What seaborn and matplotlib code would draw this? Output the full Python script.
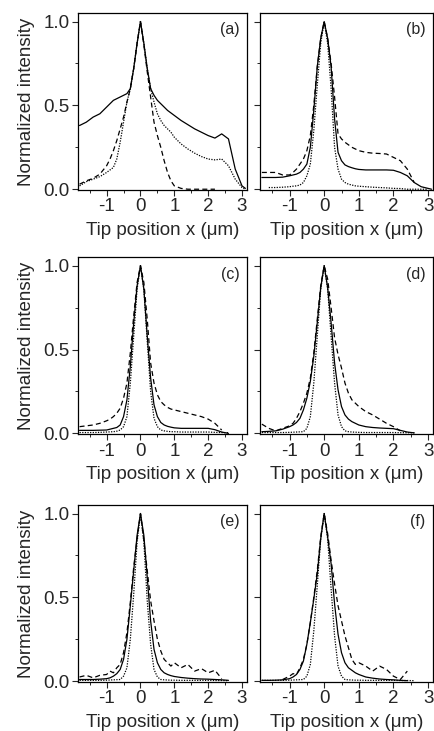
import numpy as np
import pandas as pd
import seaborn as sns
from matplotlib import pyplot as plt
from matplotlib.ticker import MultipleLocator

nan = np.nan

# common x grid (tip position, um)
x_pos = [-1.8, -1.6, -1.4, -1.2, -1.0, -0.9, -0.8, -0.7, -0.6, -0.5, -0.4, -0.3,
         -0.2, -0.1, 0.0, 0.1, 0.2, 0.3, 0.4, 0.5, 0.6, 0.7, 0.8, 0.9, 1.0,
         1.2, 1.4, 1.6, 1.8, 2.0, 2.2, 2.4, 2.6, 2.8, 3.0, 3.1]

# panel (a)
a_solid = [0.38, 0.40, 0.43, 0.45, 0.49, 0.51, 0.53, 0.54, 0.55, 0.56, 0.57, 0.60,
           0.72, 0.87, 1.00, 0.87, 0.72, 0.60, 0.56, 0.53, 0.51, 0.49, 0.47, 0.455, 0.44,
           0.41, 0.385, 0.36, 0.34, 0.32, 0.305, 0.33, 0.30, 0.12, 0.02, 0.005]
a_dash = [0.03, 0.05, 0.065, 0.09, 0.14, 0.18, 0.23, 0.29, 0.36, 0.43, 0.52, 0.60,
          0.72, 0.87, 1.00, 0.86, 0.70, 0.55, 0.40, 0.32, 0.25, 0.17, 0.10, 0.05, 0.02,
          0.005, 0.0, 0.0, 0.0, 0.0, 0.0, nan, nan, nan, nan, nan]
a_dot = [0.02, 0.045, 0.06, 0.075, 0.10, 0.115, 0.13, 0.18, 0.28, 0.40, 0.52, 0.60,
         0.72, 0.87, 1.00, 0.87, 0.72, 0.60, 0.52, 0.45, 0.41, 0.38, 0.36, 0.34, 0.31,
         0.27, 0.24, 0.215, 0.195, 0.18, 0.175, 0.18, 0.14, 0.06, 0.01, 0.0]

# panel (b)
b_solid = [0.07, 0.07, 0.07, 0.072, 0.08, 0.085, 0.09, 0.10, 0.12, 0.15, 0.25, 0.47,
           0.73, 0.90, 1.00, 0.90, 0.73, 0.42, 0.22, 0.17, 0.145, 0.135, 0.128, 0.122, 0.118,
           0.115, 0.115, 0.115, 0.115, 0.113, 0.10, 0.08, 0.04, 0.015, 0.005, 0.0]
b_dash = [0.10, 0.10, 0.10, 0.085, 0.085, 0.10, 0.12, 0.15, 0.18, 0.23, 0.32, 0.50,
          0.73, 0.90, 1.00, 0.90, 0.75, 0.55, 0.33, 0.30, 0.28, 0.265, 0.25, 0.24, 0.23,
          0.22, 0.215, 0.213, 0.21, 0.19, 0.17, 0.12, 0.04, nan, nan, nan]
b_dot = [nan, 0.01, 0.01, 0.012, 0.015, 0.018, 0.02, 0.025, 0.04, 0.08, 0.15, 0.35,
         0.62, 0.87, 1.00, 0.87, 0.60, 0.25, 0.12, 0.06, 0.04, 0.03, 0.025, 0.02, 0.018,
         0.015, 0.012, 0.01, 0.008, 0.005, 0.004, 0.0, 0.0, 0.0, 0.0, nan]

# panel (c)
c_solid = [0.018, 0.018, 0.018, 0.019, 0.02, 0.025, 0.03, 0.035, 0.05, 0.10, 0.20, 0.40,
           0.66, 0.88, 1.00, 0.86, 0.58, 0.33, 0.17, 0.10, 0.065, 0.05, 0.042, 0.037, 0.033,
           0.03, 0.03, 0.03, 0.03, 0.03, 0.022, 0.008, 0.0, nan, nan, nan]
c_dash = [0.04, 0.045, 0.05, 0.06, 0.075, 0.085, 0.10, 0.12, 0.15, 0.21, 0.30, 0.48,
          0.70, 0.90, 1.00, 0.90, 0.68, 0.42, 0.30, 0.23, 0.19, 0.17, 0.155, 0.145, 0.14,
          0.13, 0.12, 0.11, 0.10, 0.085, 0.06, 0.02, nan, nan, nan, nan]
c_dot = [0.005, 0.005, 0.005, 0.006, 0.008, 0.009, 0.01, 0.013, 0.02, 0.04, 0.10, 0.30,
         0.58, 0.86, 1.00, 0.86, 0.55, 0.25, 0.09, 0.04, 0.02, 0.015, 0.012, 0.01, 0.01,
         0.008, 0.008, 0.008, 0.008, 0.008, 0.006, 0.005, 0.004, nan, nan, nan]

# panel (d)
d_solid = [0.01, 0.012, 0.015, 0.025, 0.04, 0.05, 0.065, 0.09, 0.14, 0.21, 0.31, 0.46,
           0.66, 0.87, 1.00, 0.87, 0.66, 0.42, 0.26, 0.16, 0.11, 0.085, 0.07, 0.06, 0.05,
           0.04, 0.035, 0.032, 0.03, 0.028, 0.018, 0.008, 0.003, nan, nan, nan]
d_dash = [0.055, 0.03, 0.015, 0.03, 0.045, 0.06, 0.09, 0.13, 0.18, 0.24, 0.33, 0.48,
          0.68, 0.88, 1.00, 0.92, 0.75, 0.57, 0.47, 0.39, 0.30, 0.24, 0.20, 0.18, 0.16,
          0.13, 0.11, 0.085, 0.06, 0.04, 0.015, nan, nan, nan, nan, nan]
d_dot = [0.005, 0.005, 0.005, 0.005, 0.006, 0.007, 0.008, 0.009, 0.01, 0.03, 0.10, 0.30,
         0.58, 0.86, 1.00, 0.86, 0.58, 0.30, 0.11, 0.04, 0.015, 0.01, 0.008, 0.007, 0.006,
         0.005, 0.005, 0.005, 0.005, 0.005, 0.004, 0.004, 0.003, nan, nan, nan]

# panel (e)
e_solid = [0.01, 0.01, 0.01, 0.012, 0.015, 0.02, 0.03, 0.045, 0.07, 0.13, 0.25, 0.45,
           0.66, 0.87, 1.00, 0.87, 0.62, 0.36, 0.19, 0.11, 0.07, 0.05, 0.04, 0.033, 0.028,
           0.022, 0.018, 0.015, 0.013, 0.012, 0.01, 0.008, 0.005, nan, nan, nan]
e_dash = [0.025, 0.035, 0.02, 0.035, 0.04, 0.06, 0.05, 0.08, 0.10, 0.17, 0.29, 0.47,
          0.68, 0.85, 1.00, 0.84, 0.66, 0.48, 0.36, 0.25, 0.18, 0.13, 0.11, 0.09, 0.11,
          0.08, 0.10, 0.06, 0.075, 0.05, 0.065, 0.015, nan, nan, nan, nan]
e_dot = [0.005, 0.005, 0.005, 0.005, 0.006, 0.007, 0.008, 0.009, 0.01, 0.03, 0.08, 0.25,
         0.52, 0.83, 1.00, 0.83, 0.48, 0.22, 0.07, 0.025, 0.01, 0.008, 0.007, 0.006, 0.006,
         0.005, 0.005, 0.005, 0.005, 0.005, 0.004, 0.004, 0.003, nan, nan, nan]

# panel (f)
f_solid = [0.005, 0.005, 0.006, 0.008, 0.015, 0.025, 0.04, 0.07, 0.12, 0.22, 0.35, 0.49,
           0.64, 0.85, 1.00, 0.86, 0.70, 0.46, 0.28, 0.17, 0.11, 0.08, 0.065, 0.05, 0.04,
           0.025, 0.018, 0.013, 0.01, 0.008, 0.005, 0.003, nan, nan, nan, nan]
f_dash = [nan, nan, nan, 0.01, 0.03, 0.045, 0.04, 0.08, 0.13, 0.22, 0.35, 0.50,
          0.66, 0.86, 1.00, 0.88, 0.72, 0.58, 0.45, 0.36, 0.27, 0.20, 0.13, 0.10, 0.11,
          0.09, 0.06, 0.09, 0.07, 0.03, 0.01, 0.06, nan, nan, nan, nan]
f_dot = [0.005, 0.005, 0.005, 0.005, 0.006, 0.007, 0.008, 0.009, 0.01, 0.03, 0.10, 0.30,
         0.57, 0.85, 1.00, 0.85, 0.55, 0.27, 0.09, 0.03, 0.01, 0.008, 0.007, 0.006, 0.006,
         0.005, 0.005, 0.005, 0.005, 0.005, 0.004, 0.004, 0.003, nan, nan, nan]

panel_names = ['(a)', '(b)', '(c)', '(d)', '(e)', '(f)']
panel_curves = [(a_solid, a_dash, a_dot), (b_solid, b_dash, b_dot),
                (c_solid, c_dash, c_dot), (d_solid, d_dash, d_dot),
                (e_solid, e_dash, e_dot), (f_solid, f_dash, f_dot)]

sns.set_style('ticks')
plt.rcParams['font.family'] = ['Liberation Sans', 'DejaVu Sans']
plt.rcParams['axes.linewidth'] = 0.9
plt.rcParams['axes.unicode_minus'] = False

fig = plt.figure(figsize=(4.35, 7.31), dpi=100)

# axes boxes in figure fraction (left col / right col, three rows)
col_left = [(0.179, 0.389), (0.598, 0.398)]
row_bottom = [0.740, 0.406, 0.067]
row_height = 0.242

styles = {'solid': '-', 'dash': (0, (4, 2.6)), 'dot': (0, (1, 1.1))}

for i, (name, curves) in enumerate(zip(panel_names, panel_curves)):
    r, c = divmod(i, 2)
    ax = fig.add_axes([col_left[c][0], row_bottom[r], col_left[c][1], row_height])
    df = pd.DataFrame({'x': x_pos, 'solid': curves[0], 'dash': curves[1], 'dot': curves[2]})
    for key in ['dot', 'dash', 'solid']:
        sub = df[['x', key]].dropna()
        sns.lineplot(data=sub, x='x', y=key, ax=ax, color='black',
                     linestyle=styles[key], linewidth=0.9, sort=False)
    ax.set_xlim(-1.85, 3.15)
    ax.set_ylim(-0.005, 1.05)
    ax.set_xticks([-1, 0, 1, 2, 3])
    ax.set_yticks([0.0, 0.5, 1.0])
    ax.xaxis.set_minor_locator(MultipleLocator(0.5))
    ax.yaxis.set_minor_locator(MultipleLocator(0.25))
    ax.tick_params(which='major', direction='out', length=4, width=0.8, labelsize=13.5, pad=2)
    ax.tick_params(which='minor', direction='out', length=2, width=0.7)
    ax.set_xlabel('Tip position x (μm)', fontsize=13.5, labelpad=5)
    if c == 0:
        ax.set_yticklabels(['0.0', '0.5', '1.0'])
        ax.set_ylabel('Normalized intensity', fontsize=13.5, labelpad=6)
    else:
        ax.set_yticklabels([])
        ax.set_ylabel('')
    for sp in ax.spines.values():
        sp.set_color('black')
    ax.text(0.955, 0.905, name, transform=ax.transAxes, ha='right', va='center', fontsize=11.5)

fig.savefig('out.png', dpi=100)
